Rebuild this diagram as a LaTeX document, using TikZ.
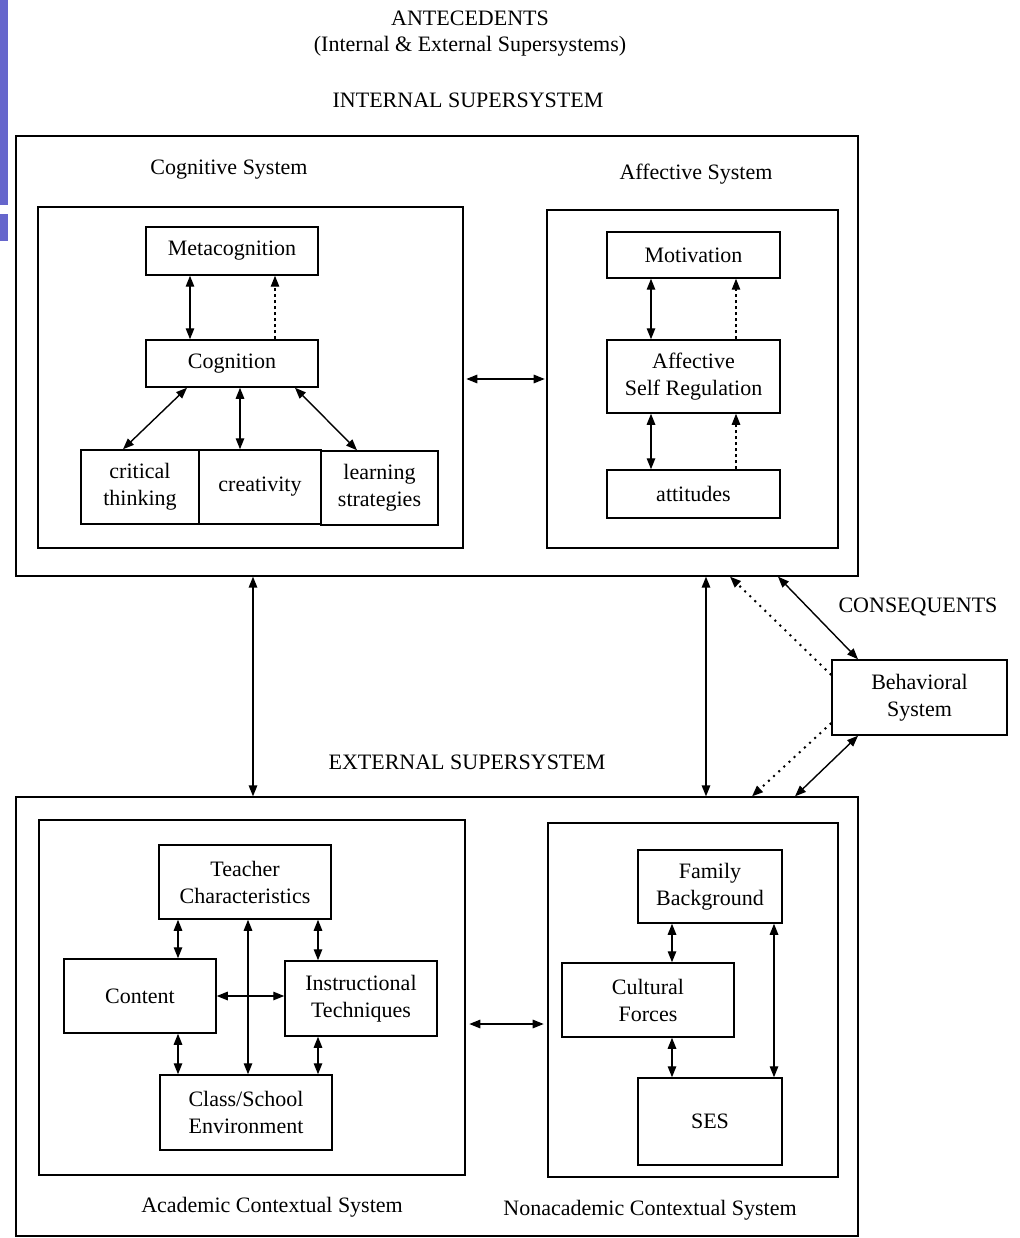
\documentclass[tikz,border=0pt]{standalone}
\usepackage{fontspec}
\setmainfont{Liberation Serif}
\usetikzlibrary{arrows.meta,calc}
\definecolor{barblue}{RGB}{102,102,204}
\begin{document}
\begin{tikzpicture}[x=1pt,y=-1pt,
  font=\fontsize{22}{27}\selectfont,
  outerbox/.style={draw,line width=1.3pt,inner sep=0pt},
  container/.style={draw,line width=2.6pt,inner sep=0pt},
  smallbox/.style={draw,line width=1.5pt,align=center,inner sep=0pt},
  lbl/.style={inner sep=0pt,align=center},
  dbl/.style={line width=1.4pt,{Triangle[length=11pt,width=8.5pt]}-{Triangle[length=11pt,width=8.5pt]}},
  dsh/.style={line width=1.2pt,dash pattern=on 3pt off 3pt,-{Triangle[length=11pt,width=8.5pt]}},
  dtd/.style={line width=2pt,dash pattern=on 2pt off 5pt,-{Triangle[length=11pt,width=8.5pt]}}
]
\useasboundingbox (0,0) rectangle (1019,1238);
% blue bars
\fill[barblue] (0,0) rectangle (8,205);
\fill[barblue] (0,214) rectangle (8,241);

% titles
\node[lbl] (t1) at (470,18) {ANTECEDENTS};
\node[lbl] (t2) at (470,46) {(Internal \& External Supersystems)};
\node[lbl] (t3) at (468,100) {INTERNAL SUPERSYSTEM};

% internal supersystem
\node[outerbox,minimum width=842,minimum height=440] (internal) at (437,356) {};
\node[lbl] (cogsys) at (229,170) {Cognitive System};
\node[lbl] (affsys) at (696,174) {Affective System};
\node[container,minimum width=425,minimum height=341] (cogbox) at (250.5,377.5) {};
\node[container,minimum width=291,minimum height=338] (affbox) at (692.5,379) {};

\node[smallbox,minimum width=172,minimum height=48] (meta) at (232,251) {Metacognition};
\node[smallbox,minimum width=172,minimum height=47] (cogn) at (232,363.5) {Cognition};
\node[smallbox,minimum width=118,minimum height=74] (crit) at (140,487) {critical\\thinking};
\node[smallbox,minimum width=122,minimum height=74] (crea) at (260,487) {creativity};
\node[smallbox,minimum width=117,minimum height=74] (learn) at (379.5,488) {learning\\strategies};

\node[smallbox,minimum width=173,minimum height=46] (motiv) at (693.5,255) {Motivation};
\node[smallbox,minimum width=173,minimum height=73] (asr) at (693.5,376.5) {Affective\\Self Regulation};
\node[smallbox,minimum width=173,minimum height=48] (att) at (693.5,494) {attitudes};

\draw[dbl] ([xshift=-42pt]meta.south) -- ([xshift=-42pt]cogn.north);
\draw[dsh] ([xshift=43pt]cogn.north) -- ([xshift=43pt]meta.south);
\draw[dbl] ([xshift=-45pt]cogn.south) -- ([xshift=-17pt]crit.north);
\draw[dbl] ([xshift=8pt]cogn.south) -- ([xshift=-20pt]crea.north);
\draw[dbl] ([xshift=63pt]cogn.south) -- ([xshift=-22.5pt]learn.north);

\draw[dbl] ([xshift=-42.5pt]motiv.south) -- ([xshift=-42.5pt]asr.north);
\draw[dsh] ([xshift=42.5pt]asr.north) -- ([xshift=42.5pt]motiv.south);
\draw[dbl] ([xshift=-42.5pt]asr.south) -- ([xshift=-42.5pt]att.north);
\draw[dsh] ([xshift=42.5pt]att.north) -- ([xshift=42.5pt]asr.south);

\draw[dbl] ([xshift=2pt,yshift=-1.5pt]cogbox.east) -- ([xshift=-1pt,yshift=-1.5pt]cogbox.east -| affbox.west);

% external supersystem
\node[lbl] (extlbl) at (467,762) {EXTERNAL SUPERSYSTEM};
\node[outerbox,minimum width=842,minimum height=439] (external) at (437,1016.5) {};
\node[container,minimum width=426,minimum height=355] (acad) at (252,997.5) {};
\node[container,minimum width=290,minimum height=354] (nonac) at (693,1000) {};
\node[lbl] (acadlbl) at (272,1207) {Academic Contextual System};
\node[lbl] (nonaclbl) at (650,1210) {Nonacademic Contextual System};

\node[smallbox,minimum width=172,minimum height=74] (teach) at (245,882) {Teacher\\Characteristics};
\node[smallbox,minimum width=152,minimum height=74] (cont) at (140,996) {Content};
\node[smallbox,minimum width=152,minimum height=75] (instr) at (361,998.5) {Instructional\\Techniques};
\node[smallbox,minimum width=172,minimum height=75] (class) at (246,1112.5) {Class/School\\Environment};

\node[smallbox,minimum width=144,minimum height=73] (fam) at (710,886.5) {Family\\Background};
\node[smallbox,minimum width=172,minimum height=74] (cult) at (648,1000) {Cultural\\Forces};
\node[smallbox,minimum width=144,minimum height=87] (ses) at (710,1121.5) {SES};

\draw[dbl] ([xshift=-67pt]teach.south) -- ([xshift=38pt]cont.north);
\draw[dbl] ([xshift=73pt]teach.south) -- ([xshift=-43pt]instr.north);
\draw[dbl] ([xshift=38pt]cont.south) -- ([xshift=-68pt]class.north);
\draw[dbl] ([xshift=-43pt]instr.south) -- ([xshift=72pt]class.north);
\draw[dbl] ([xshift=3pt]teach.south) -- ([xshift=2pt]class.north);
\draw[dbl] (cont.east) -- (cont.east -| instr.west);

\draw[dbl] ([xshift=-38pt]fam.south) -- ([xshift=24pt]cult.north);
\draw[dbl] ([xshift=24pt]cult.south) -- ([xshift=-38pt]ses.north);
\draw[dbl] ([xshift=64pt]fam.south) -- ([xshift=64pt]ses.north);

\draw[dbl] ([xshift=3pt,yshift=-26.5pt]acad.east) -- ([xshift=-3pt,yshift=-26.5pt]acad.east -| nonac.west);

% connections between supersystems
\draw[dbl] ([xshift=-184pt]internal.south) -- ([xshift=-184pt]external.north);
\draw[dbl] ([xshift=269pt]internal.south) -- ([xshift=269pt]external.north);

% behavioral system
\node[lbl] (conseq) at (918,607) {CONSEQUENTS};
\node[smallbox,minimum width=175,minimum height=75] (beh) at (919.5,697.5) {Behavioral\\System};

\draw[dtd] ([yshift=22.5pt]beh.west) -- ([xshift=293pt]internal.south);
\draw[dbl] ([xshift=341pt]internal.south) -- ([xshift=-61.5pt]beh.north);
\draw[dtd] ([yshift=-25.5pt]beh.west) -- ([xshift=315pt]external.north);
\draw[dbl] ([xshift=-61.5pt]beh.south) -- ([xshift=358pt]external.north);
\end{tikzpicture}
\end{document}
